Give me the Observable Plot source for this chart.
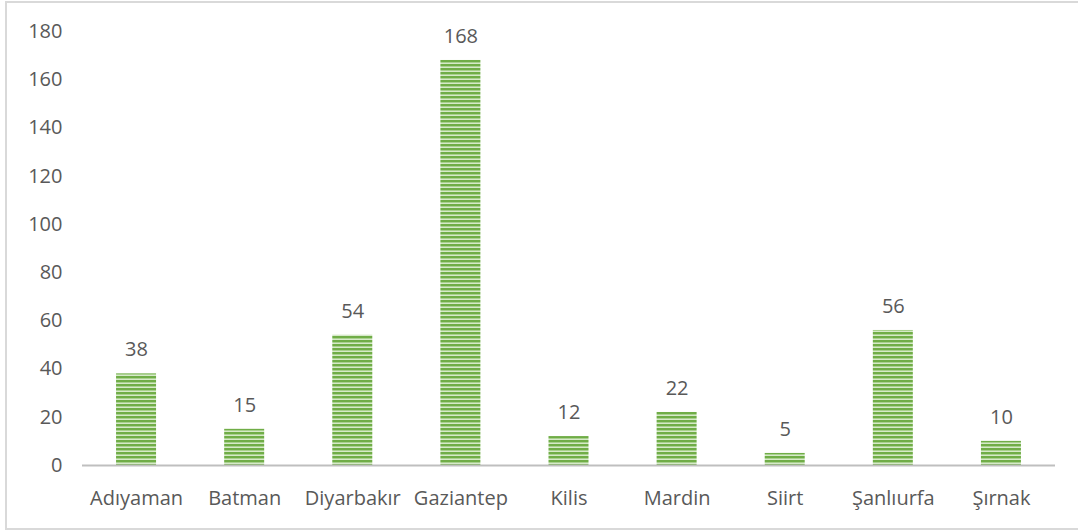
<!DOCTYPE html>
<html>
<head>
<meta charset="utf-8">
<script src="https://cdn.jsdelivr.net/npm/d3@7"></script>
<script src="https://cdn.jsdelivr.net/npm/@observablehq/plot@0.6"></script>
<style>
  html, body { margin: 0; padding: 0; background: #fff; overflow: hidden; }
  #wrap { position: relative; width: 1078px; height: 531px; overflow: hidden; }
  #frame { position: absolute; left: 5px; top: 1px; width: 1090px; height: 525px; border: 2px solid #d9d9d9; box-sizing: content-box; }
  #chart { position: absolute; left: 0; top: 0; }
</style>
</head>
<body>
<div id="wrap"><div id="frame"></div><div id="chart"></div></div>
<script>
const provinces = ["Adıyaman", "Batman", "Diyarbakır", "Gaziantep", "Kilis", "Mardin", "Siirt", "Şanlıurfa", "Şırnak"];
const counts = [38, 15, 54, 168, 12, 22, 5, 56, 10];
const yTicks = [0, 20, 40, 60, 80, 100, 120, 140, 160, 180];

const data = provinces.map((p, i) => ({province: p, count: counts[i]}));

const font = "'Open Sans', sans-serif";
const textColor = "#595959";

const plot = Plot.plot({
  width: 1078,
  height: 531,
  marginLeft: 82,
  marginRight: 23,
  marginTop: 31,
  marginBottom: 66,
  style: {fontFamily: font, fontSize: "20px", color: textColor, background: "transparent"},
  x: {domain: provinces, paddingInner: 0.63, paddingOuter: 0.315, round: false, label: null},
  y: {domain: [0, 180], label: null},
  marks: [
    Plot.axisY(yTicks, {tickSize: 0, tickPadding: 20, fontSize: 20, fill: textColor, label: null}),
    Plot.axisX({tickSize: 0, tickPadding: 25, fontSize: 20, fill: textColor, label: null}),
    Plot.barY(data, {x: "province", y: "count", fill: "url(#stripes)"}),
    Plot.ruleY([0], {stroke: "#bfbfbf", strokeWidth: 2}),
    Plot.text(data, {x: "province", y: "count", text: d => String(d.count), dy: -24, fill: textColor, fontSize: 20})
  ]
});

const ns = "http://www.w3.org/2000/svg";
const defs = document.createElementNS(ns, "defs");
const pat = document.createElementNS(ns, "pattern");
pat.setAttribute("id", "stripes");
pat.setAttribute("patternUnits", "userSpaceOnUse");
pat.setAttribute("width", "8");
pat.setAttribute("height", "4");
[["0", "2", "#70ad47"], ["2", "1", "#a9d18e"], ["3", "1", "#d6e9c9"]].forEach(([y, h, c]) => {
  const r = document.createElementNS(ns, "rect");
  r.setAttribute("x", "0"); r.setAttribute("y", y);
  r.setAttribute("width", "8"); r.setAttribute("height", h);
  r.setAttribute("fill", c);
  pat.appendChild(r);
});
defs.appendChild(pat);
plot.insertBefore(defs, plot.firstChild);

document.getElementById("chart").appendChild(plot);
</script>
</body>
</html>
